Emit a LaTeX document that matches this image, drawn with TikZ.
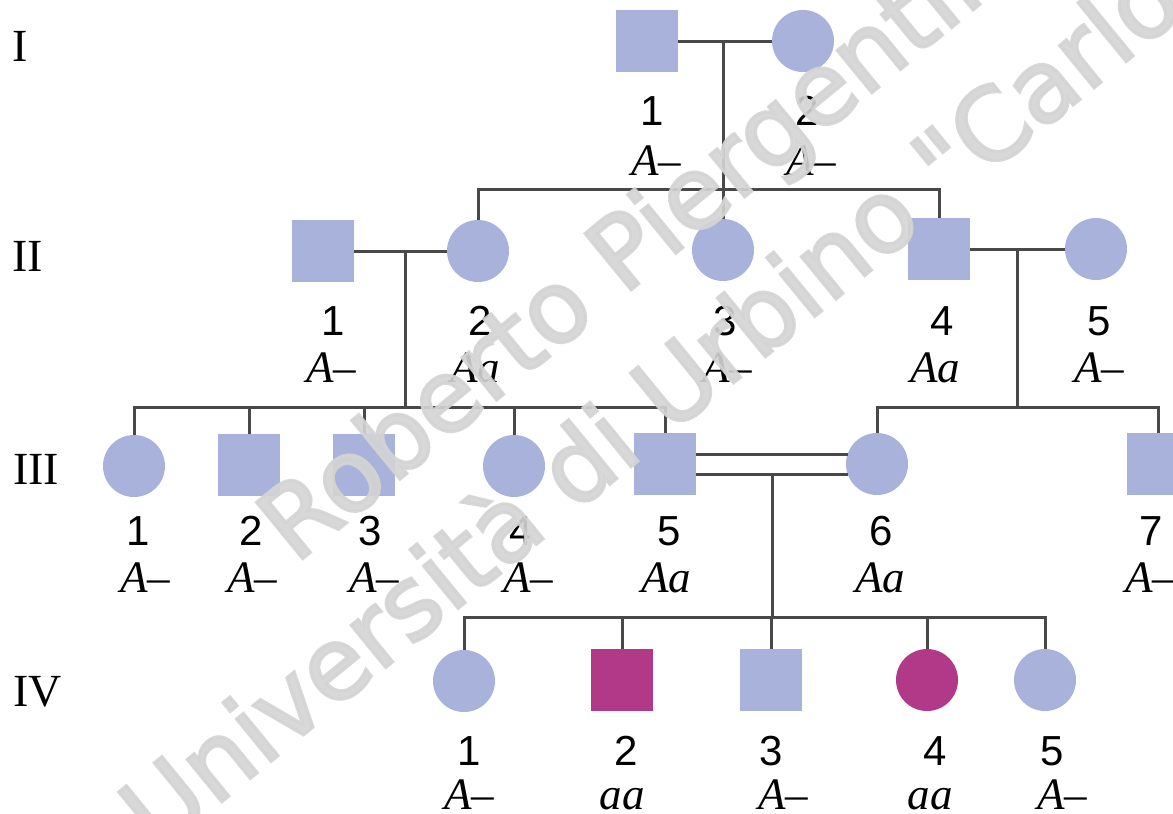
\documentclass[tikz,border=0pt]{standalone}
\usepackage{fontspec}
\setmainfont{Liberation Serif}
\newfontfamily\numfont{Liberation Sans}
\newfontfamily\wmfont[FakeBold=3]{DejaVu Sans}
\usetikzlibrary{calc}
\definecolor{lav}{RGB}{168,178,219}
\definecolor{mag}{RGB}{178,56,136}
\definecolor{ln}{RGB}{72,72,72}
\definecolor{wmgray}{RGB}{212,212,212}
\begin{document}
\begin{tikzpicture}[x=1pt,y=-1pt,
  male/.style={rectangle,minimum size=62pt,inner sep=0pt,fill=lav},
  female/.style={circle,minimum size=62pt,inner sep=0pt,fill=lav},
  affected/.style={fill=mag},
  num/.style={font=\numfont\fontsize{42}{42}\selectfont,anchor=base,inner sep=0pt},
  geno/.style={font=\itshape\fontsize{45}{45}\selectfont,anchor=base,inner sep=0pt},
  genlabel/.style={font=\fontsize{46}{46}\selectfont,anchor=base west,inner sep=0pt},
  link/.style={draw=ln,line width=3pt},
  wm/.style={font=\wmfont\fontsize{100}{100}\selectfont,text=wmgray,opacity=0.9,anchor=base west,inner sep=0pt,rotate=39.3}]
\useasboundingbox[fill=white] (0,0) rectangle (1173,814);

% generation labels
\node[genlabel] (gI) at (12,61) {I};
\node[genlabel] (gII) at (12,271) {II};
\node[genlabel] (gIII) at (13,484) {III};
\node[genlabel] (gIV) at (13,706) {IV};

% generation I
\node[male] (I1) at (647,41) {};
\node[female] (I2) at (803,41) {};
% generation II
\node[male] (II1) at (323,251) {};
\node[female] (II2) at (478,251) {};
\node[female] (II3) at (723,250) {};
\node[male] (II4) at (939,249) {};
\node[female] (II5) at (1096,249) {};
% generation III
\node[female] (III1) at (134,466) {};
\node[male] (III2) at (249,465) {};
\node[male] (III3) at (364,465) {};
\node[female] (III4) at (514,466) {};
\node[male] (III5) at (665,464) {};
\node[female] (III6) at (877,464) {};
\node[male] (III7) at (1158,464) {};
% generation IV
\node[female] (IV1) at (464,681) {};
\node[male,affected] (IV2) at (622,680) {};
\node[male] (IV3) at (771,680) {};
\node[female,affected] (IV4) at (927,680) {};
\node[female] (IV5) at (1045,680) {};

% junction coordinates
\coordinate (m1) at (723,41);
\coordinate (s1) at (723,189);
\coordinate (m2) at (405,251);
\coordinate (s2) at (405,407);
\coordinate (m3) at (1017,249);
\coordinate (s3) at (1017,407);
\coordinate (m4) at (772,474);
\coordinate (s4) at (772,617);

% connectors I
\draw[link] (I1.east) -- (I2.west);
\draw[link] (m1) -- (s1);
\draw[link] (II2.north) -- (II2.north |- s1) -- (II4.north |- s1) -- (II4.north);
\draw[link] (II3.north) -- (II3.north |- s1);
% connectors II
\draw[link] (II1.east) -- (II2.west);
\draw[link] (m2) -- (s2);
\draw[link] (III1.north) -- (III1.north |- s2) -- (III5.north |- s2) -- (III5.north);
\draw[link] (III2.north) -- (III2.north |- s2);
\draw[link] (III3.north) -- (III3.north |- s2);
\draw[link] (III4.north) -- (III4.north |- s2);
\draw[link] (II4.east) -- (II5.west);
\draw[link] (m3) -- (s3);
\draw[link] (III6.north) -- (III6.north |- s3) -- (III7.north |- s3) -- (III7.north);
% connectors III (consanguineous mating)
\draw[link] ($(III5.east)+(0,-10)$) -- ($(III6.west)+(2,-10)$);
\draw[link] ($(III5.east)+(0,10)$) -- ($(III6.west)+(2,10)$);
\draw[link] (m4) -- (s4);
\draw[link] (IV1.north) -- (IV1.north |- s4) -- (IV5.north |- s4) -- (IV5.north);
\draw[link] (IV2.north) -- (IV2.north |- s4);
\draw[link] (IV3.north) -- (IV3.north |- s4);
\draw[link] (IV4.north) -- (IV4.north |- s4);

% labels I
\node[num] (nI1) at (652,125) {1};
\node[geno] (tI1) at (656,175) {A--};
\node[num] (nI2) at (807,125) {2};
\node[geno] (tI2) at (811,175) {A--};
% labels II
\node[num] (nII1) at (333,335) {1};
\node[geno] (tII1) at (331,382) {A--};
\node[num] (nII2) at (480,335) {2};
\node[geno] (tII2) at (475,382) {Aa};
\node[num] (nII3) at (725,335) {3};
\node[geno] (tII3) at (727,382) {A--};
\node[num] (nII4) at (942,335) {4};
\node[geno] (tII4) at (935,382) {Aa};
\node[num] (nII5) at (1099,335) {5};
\node[geno] (tII5) at (1099,382) {A--};
% labels III
\node[num] (nIII1) at (138,545) {1};
\node[geno] (tIII1) at (145,592) {A--};
\node[num] (nIII2) at (251,545) {2};
\node[geno] (tIII2) at (252,592) {A--};
\node[num] (nIII3) at (370,545) {3};
\node[geno] (tIII3) at (374,592) {A--};
\node[num] (nIII4) at (521,545) {4};
\node[geno] (tIII4) at (528,592) {A--};
\node[num] (nIII5) at (669,545) {5};
\node[geno] (tIII5) at (666,592) {Aa};
\node[num] (nIII6) at (881,545) {6};
\node[geno] (tIII6) at (880,592) {Aa};
\node[num] (nIII7) at (1151,545) {7};
\node[geno] (tIII7) at (1150,592) {A--};
% labels IV
\node[num] (nIV1) at (469,765) {1};
\node[geno] (tIV1) at (469,809) {A--};
\node[num] (nIV2) at (626,765) {2};
\node[geno] (tIV2) at (622,809) {aa};
\node[num] (nIV3) at (771,765) {3};
\node[geno] (tIV3) at (783,809) {A--};
\node[num] (nIV4) at (935,765) {4};
\node[geno] (tIV4) at (930,809) {aa};
\node[num] (nIV5) at (1052,765) {5};
\node[geno] (tIV5) at (1062,809) {A--};

% watermark
\node[wm] (wm1) at (295,565) {Roberto Piergentili};
\node[wm] (wm2) at (158,854) {Università di Urbino "Carlo Bo"};
\end{tikzpicture}
\end{document}
